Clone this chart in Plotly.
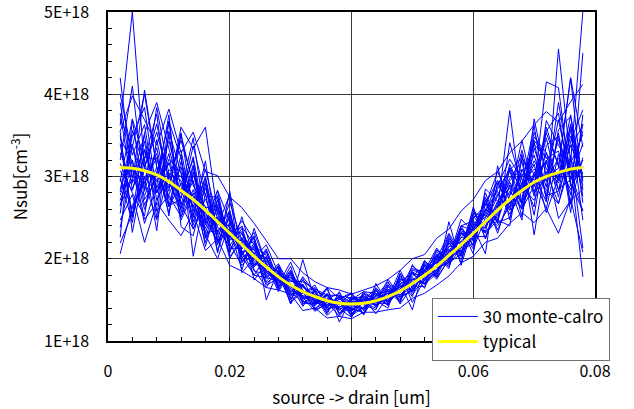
import plotly.graph_objects as go

# Position along the channel [um]
x_um = [0.002, 0.004, 0.006, 0.008, 0.010, 0.012, 0.014, 0.016, 0.018, 0.020,
        0.022, 0.024, 0.026, 0.028, 0.030, 0.032, 0.034, 0.036, 0.038, 0.040,
        0.042, 0.044, 0.046, 0.048, 0.050, 0.052, 0.054, 0.056, 0.058, 0.060,
        0.062, 0.064, 0.066, 0.068, 0.070, 0.072, 0.074, 0.076, 0.078]

# Substrate doping, in units of 1E16 cm^-3
typical = [311, 310, 307, 302, 294, 283, 272, 259, 245, 231, 217, 203, 190, 178, 168, 160,
           154, 149, 146, 145, 146, 149, 154, 161, 170, 180, 191, 204, 217, 231, 245, 259,
           272, 283, 293, 300, 305, 309, 311]

mc_01 = [350, 250, 321, 376, 264, 327, 203, 280, 207, 282, 206, 228, 150, 187, 145, 199, 149, 165, 123, 152, 132, 170, 145, 170, 138, 193, 178, 245, 192, 239, 206, 313, 247, 327, 229, 320, 295, 364, 276]
mc_02 = [281, 339, 265, 301, 367, 256, 306, 232, 271, 212, 231, 190, 210, 164, 186, 148, 147, 156, 155, 136, 158, 142, 168, 147, 184, 164, 205, 190, 237, 217, 271, 243, 310, 266, 342, 273, 353, 266, 323]
mc_03 = [390, 298, 351, 258, 278, 312, 245, 294, 221, 252, 197, 219, 176, 191, 150, 174, 161, 138, 151, 159, 137, 161, 147, 182, 165, 198, 182, 224, 203, 252, 233, 292, 262, 308, 288, 347, 283, 321, 290]
mc_04 = [247, 278, 220, 268, 247, 228, 256, 210, 224, 192, 185, 176, 165, 162, 157, 137, 140, 128, 130, 127, 135, 135, 138, 140, 152, 158, 168, 179, 195, 203, 220, 225, 243, 256, 244, 261, 231, 273, 208]
mc_05 = [355, 398, 369, 338, 382, 329, 354, 306, 301, 275, 262, 243, 222, 200, 200, 183, 172, 165, 162, 157, 162, 167, 175, 186, 200, 205, 225, 236, 258, 272, 295, 306, 329, 343, 363, 379, 366, 391, 412]
mc_06 = [298, 244, 332, 286, 317, 266, 236, 273, 234, 216, 237, 196, 197, 184, 161, 155, 145, 156, 141, 148, 149, 151, 158, 154, 175, 170, 186, 210, 210, 219, 260, 249, 290, 267, 305, 317, 285, 296, 340]
mc_07 = [362, 500, 311, 354, 297, 344, 293, 245, 283, 245, 212, 225, 183, 174, 177, 167, 156, 144, 153, 137, 151, 158, 149, 168, 161, 187, 195, 199, 226, 242, 237, 270, 267, 292, 309, 295, 322, 336, 362]
mc_08 = [271, 313, 285, 384, 303, 274, 324, 243, 260, 224, 222, 210, 199, 171, 173, 167, 152, 149, 139, 143, 155, 144, 156, 173, 182, 178, 196, 215, 221, 237, 251, 264, 295, 309, 281, 329, 296, 349, 298]
mc_09 = [329, 292, 405, 312, 263, 292, 263, 309, 248, 239, 206, 194, 188, 185, 166, 149, 159, 142, 148, 131, 141, 154, 163, 156, 165, 191, 189, 195, 231, 228, 260, 282, 254, 286, 319, 294, 345, 306, 258]
mc_10 = [219, 255, 299, 280, 328, 247, 280, 229, 200, 245, 203, 180, 177, 173, 175, 162, 143, 158, 134, 147, 139, 147, 145, 166, 172, 173, 200, 211, 208, 245, 231, 247, 289, 261, 303, 284, 267, 316, 351]
mc_11 = [370, 336, 293, 323, 282, 360, 334, 360, 254, 225, 246, 223, 183, 182, 157, 158, 168, 140, 155, 152, 153, 142, 161, 147, 188, 184, 186, 202, 240, 215, 266, 295, 277, 332, 276, 355, 377, 288, 311]
mc_12 = [294, 370, 321, 234, 355, 304, 237, 263, 232, 259, 195, 216, 204, 165, 182, 153, 149, 151, 146, 140, 134, 163, 143, 177, 159, 185, 205, 193, 213, 255, 240, 257, 315, 280, 344, 323, 300, 375, 268]
mc_13 = [316, 280, 252, 345, 273, 263, 295, 215, 266, 203, 221, 185, 181, 189, 145, 169, 140, 147, 141, 150, 160, 149, 170, 159, 177, 169, 182, 222, 206, 239, 268, 235, 269, 303, 296, 261, 327, 278, 364]
mc_14 = [255, 356, 311, 294, 315, 332, 254, 298, 220, 234, 231, 205, 168, 176, 170, 142, 163, 135, 155, 138, 146, 158, 152, 163, 191, 180, 209, 190, 233, 212, 250, 279, 259, 273, 354, 309, 292, 338, 303]
mc_15 = [400, 326, 363, 271, 302, 251, 284, 241, 283, 213, 212, 232, 192, 160, 184, 162, 147, 163, 132, 154, 144, 138, 166, 152, 163, 198, 178, 209, 203, 263, 224, 268, 298, 318, 253, 338, 349, 256, 375]
mc_16 = [266, 297, 277, 311, 256, 318, 269, 253, 240, 278, 183, 201, 217, 182, 154, 178, 159, 133, 160, 129, 158, 149, 140, 182, 147, 175, 198, 218, 219, 222, 280, 244, 250, 292, 326, 277, 282, 357, 247]
mc_17 = [340, 252, 353, 390, 334, 279, 321, 225, 272, 222, 240, 174, 195, 167, 180, 146, 145, 149, 144, 159, 132, 165, 149, 161, 179, 191, 175, 200, 248, 233, 243, 261, 380, 263, 301, 353, 314, 284, 320]
mc_18 = [238, 310, 243, 289, 375, 239, 228, 291, 209, 254, 208, 212, 172, 191, 163, 155, 152, 142, 151, 145, 148, 154, 172, 145, 167, 166, 193, 229, 195, 249, 265, 306, 271, 288, 271, 306, 267, 326, 213]
mc_19 = [377, 284, 324, 320, 286, 351, 289, 263, 259, 200, 226, 190, 208, 174, 173, 172, 163, 156, 134, 140, 155, 142, 156, 175, 173, 187, 202, 206, 226, 227, 227, 256, 308, 251, 335, 287, 390, 304, 355]
mc_20 = [206, 265, 293, 247, 304, 295, 264, 232, 234, 242, 215, 221, 185, 180, 147, 160, 138, 144, 153, 134, 141, 151, 145, 163, 184, 176, 187, 197, 215, 251, 253, 240, 264, 308, 289, 320, 249, 271, 284]
mc_21 = [320, 410, 282, 335, 264, 273, 337, 276, 275, 218, 192, 207, 201, 167, 186, 151, 156, 140, 141, 147, 151, 146, 175, 154, 161, 185, 213, 195, 237, 206, 285, 270, 286, 247, 370, 300, 310, 420, 336]
mc_22 = [284, 349, 384, 280, 321, 305, 250, 319, 224, 269, 221, 187, 165, 192, 159, 176, 145, 151, 158, 131, 160, 158, 149, 170, 175, 171, 184, 220, 199, 242, 238, 289, 321, 297, 263, 368, 338, 313, 178]
mc_23 = [355, 232, 311, 364, 294, 261, 311, 249, 250, 207, 251, 199, 194, 164, 191, 144, 161, 154, 137, 152, 146, 140, 163, 150, 186, 182, 196, 204, 230, 223, 260, 247, 240, 322, 303, 269, 357, 373, 297]
mc_24 = [277, 320, 260, 306, 343, 288, 273, 220, 263, 229, 204, 226, 179, 185, 152, 167, 149, 137, 148, 143, 139, 158, 143, 173, 154, 196, 180, 215, 213, 260, 225, 263, 293, 269, 348, 329, 275, 343, 381]
mc_25 = [307, 283, 343, 250, 367, 322, 241, 286, 238, 227, 233, 192, 212, 173, 168, 153, 136, 147, 130, 150, 155, 144, 159, 159, 182, 169, 204, 188, 240, 234, 272, 231, 277, 344, 280, 299, 369, 297, 312]
mc_26 = [226, 369, 272, 297, 277, 251, 302, 257, 217, 258, 201, 214, 186, 176, 177, 165, 154, 131, 146, 136, 151, 163, 147, 179, 161, 182, 191, 226, 208, 239, 245, 276, 311, 283, 315, 256, 299, 361, 294]
mc_27 = [420, 298, 333, 280, 308, 300, 276, 237, 277, 211, 224, 207, 170, 183, 159, 148, 143, 165, 151, 157, 144, 151, 168, 149, 193, 173, 205, 211, 221, 225, 256, 295, 259, 300, 339, 322, 331, 267, 450]
mc_28 = [297, 261, 298, 328, 252, 353, 258, 300, 229, 248, 210, 180, 203, 162, 182, 158, 165, 149, 139, 129, 153, 133, 154, 166, 168, 194, 177, 199, 240, 246, 232, 253, 282, 260, 289, 360, 312, 420, 284]
mc_29 = [346, 318, 248, 267, 351, 266, 314, 226, 251, 231, 239, 217, 177, 194, 166, 169, 147, 142, 155, 147, 132, 156, 161, 156, 170, 184, 200, 231, 204, 228, 275, 243, 341, 288, 362, 271, 455, 317, 500]
mc_30 = [264, 336, 400, 312, 289, 282, 347, 247, 222, 237, 186, 237, 194, 169, 196, 160, 138, 156, 144, 154, 148, 144, 152, 186, 156, 178, 211, 195, 206, 255, 253, 285, 308, 323, 288, 415, 408, 292, 258]

monte_carlo = [mc_01, mc_02, mc_03, mc_04, mc_05, mc_06, mc_07, mc_08, mc_09, mc_10,
               mc_11, mc_12, mc_13, mc_14, mc_15, mc_16, mc_17, mc_18, mc_19, mc_20,
               mc_21, mc_22, mc_23, mc_24, mc_25, mc_26, mc_27, mc_28, mc_29, mc_30]

UNIT = 1e16  # list values are in 1E16 cm^-3

y_tick_values = [1e18, 2e18, 3e18, 4e18, 5e18]
y_tick_labels = ["1E+18", "2E+18", "3E+18", "4E+18", "5E+18"]
x_tick_values = [0, 0.02, 0.04, 0.06, 0.08]
x_tick_labels = ["0", "0.02", "0.04", "0.06", "0.08"]

FONT = "Noto Sans CJK JP, DejaVu Sans, sans-serif"
TICK_SIZE = 16
TEXT_SIZE = 17

fig = go.Figure()

for k, run in enumerate(monte_carlo):
    fig.add_trace(go.Scatter(
        x=x_um, y=[v * UNIT for v in run], mode="lines",
        line=dict(color="#0000FF", width=1),
        name="30 monte-calro", legendgroup="mc",
        showlegend=(k == 0), hoverinfo="skip",
    ))

fig.add_trace(go.Scatter(
    x=x_um, y=[v * UNIT for v in typical], mode="lines",
    line=dict(color="#FFFF00", width=3, shape="spline"),
    name="typical",
))

axis_common = dict(
    showline=True, linecolor="black", linewidth=1.5, mirror=True,
    showgrid=True, gridcolor="#3a3a3a", gridwidth=1,
    ticks="inside", ticklen=4, tickcolor="black",
    zeroline=False, automargin=False, ticklabeloverflow="allow",
    tickfont=dict(family=FONT, size=TICK_SIZE, color="black"),
)

fig.update_xaxes(
    range=[0, 0.08], tickvals=x_tick_values, ticktext=x_tick_labels,
    minor=dict(dtick=0.004, tick0=0, ticks="inside", ticklen=4, tickcolor="black", showgrid=False),
    ticklabelstandoff=15,
    title=dict(text="source -> drain [um]", font=dict(family=FONT, size=TEXT_SIZE, color="black"), standoff=20),
    **axis_common,
)
fig.update_yaxes(
    range=[1e18, 5e18], tickvals=y_tick_values, ticktext=y_tick_labels,
    minor=dict(dtick=2e17, tick0=0, ticks="inside", ticklen=4, tickcolor="black", showgrid=False),
    ticklabelstandoff=14,
    title=dict(text="Nsub[cm<sup>-3</sup>]", font=dict(family=FONT, size=TEXT_SIZE, color="black"), standoff=12),
    **axis_common,
)

fig.update_layout(
    width=634, height=409,
    margin=dict(l=108, r=39, t=12, b=68),
    paper_bgcolor="white", plot_bgcolor="white",
    font=dict(family=FONT, size=TEXT_SIZE, color="black"),
    legend=dict(
        x=0.665, y=0.131, xanchor="left", yanchor="top",
        bgcolor="white", bordercolor="#707070", borderwidth=1,
        font=dict(family=FONT, size=TEXT_SIZE, color="black"),
        itemwidth=40, tracegroupgap=0,
    ),
    showlegend=True,
)

fig.write_html("out.html")
